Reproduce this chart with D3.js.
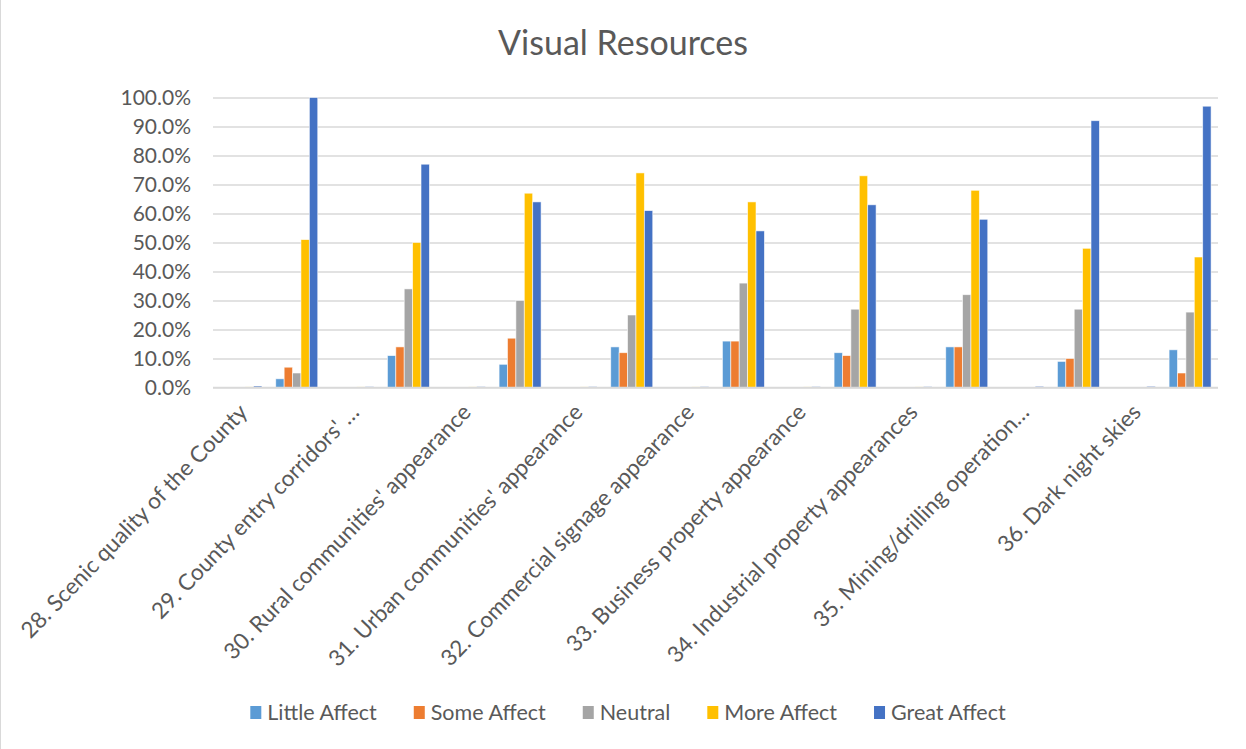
<!DOCTYPE html>
<html>
<head>
<meta charset="utf-8">
<script src="https://cdn.jsdelivr.net/npm/d3@7"></script>
<style>
  html, body { margin: 0; padding: 0; background: #fff; }
  svg { display: block; font-family: Lato, "Open Sans", sans-serif; }
</style>
</head>
<body>
<svg id="chart" width="1246" height="749"></svg>
<script>
// Survey questions (each question occupies two category slots; only the first is labelled)
const questions = [
  "28. Scenic quality of the County",
  "29. County entry corridors' …",
  "30. Rural communities' appearance",
  "31. Urban communities' appearance",
  "32. Commercial signage appearance",
  "33. Business property appearance",
  "34. Industrial property appearances",
  "35. Mining/drilling operation…",
  "36. Dark night skies"
];

const seriesNames = ["Little Affect", "Some Affect", "Neutral", "More Affect", "Great Affect"];
const seriesColors = ["#5B9BD5", "#ED7D31", "#A5A5A5", "#FFC000", "#4472C4"];

// Percent values, two slots per question
const littleAffect = [0, 3, 0, 11, 0, 8, 0, 14, 0, 16, 0, 12, 0, 14, 0, 9, 0, 13];
const someAffect   = [0, 7, 0, 14, 0, 17, 0, 12, 0, 16, 0, 11, 0, 14, 0, 10, 0, 5];
const neutral      = [0, 5, 0, 34, 0, 30, 0, 25, 0, 36, 0, 27, 0, 32, 0, 27, 0, 26];
const moreAffect   = [0.2, 51, 0.2, 50, 0.2, 67, 0.2, 74, 0.2, 64, 0.2, 73, 0.2, 68, 0, 48, 0, 45];
const greatAffect  = [0.5, 100, 0.3, 77, 0.3, 64, 0.3, 61, 0.3, 54, 0.3, 63, 0.3, 58, 0.4, 92, 0.4, 97];

const yTicks = [0, 10, 20, 30, 40, 50, 60, 70, 80, 90, 100];

const seriesValues = [littleAffect, someAffect, neutral, moreAffect, greatAffect];
const slotCount = littleAffect.length;
const slots = d3.range(slotCount);

const textColor = "#595959";
const gridColor = "#D9D9D9";

const svg = d3.select("#chart");
const plot = { left: 213, right: 1218, top: 97.5, bottom: 387.5 };

// left chart-area border
svg.append("line")
  .attr("x1", 0.5).attr("x2", 0.5).attr("y1", 0).attr("y2", 749)
  .attr("stroke", gridColor).attr("stroke-width", 1);

// title
svg.append("text")
  .attr("x", 623).attr("y", 55)
  .attr("text-anchor", "middle")
  .attr("font-size", 34)
  .attr("fill", textColor)
  .text("Visual Resources");

// scales
const gap = 0.2477;
const x0 = d3.scaleBand().domain(slots).range([plot.left, plot.right])
  .paddingInner(gap).paddingOuter(gap / 2);
const x1 = d3.scaleBand().domain(d3.range(seriesNames.length)).range([0, x0.bandwidth()]);
const y = d3.scaleLinear().domain([0, 100]).range([plot.bottom, plot.top]);

// gridlines + y axis labels
const yAxis = d3.axisLeft(y).tickValues(yTicks)
  .tickSize(-(plot.right - plot.left))
  .tickPadding(22)
  .tickFormat(d => d.toFixed(1) + "%");
const gy = svg.append("g").attr("transform", `translate(${plot.left},0)`).call(yAxis);
gy.select(".domain").remove();
gy.selectAll(".tick line").attr("stroke", gridColor).attr("stroke-width", 1.3);
gy.selectAll(".tick text")
  .attr("fill", textColor)
  .attr("font-size", 21)
  .attr("font-family", "Lato, 'Open Sans', sans-serif");

// bars
const groups = svg.append("g").selectAll("g")
  .data(slots)
  .join("g")
  .attr("transform", d => `translate(${x0(d)},0)`);

groups.selectAll("rect")
  .data(s => seriesValues.map((vals, i) => ({ i, v: vals[s] })))
  .join("rect")
  .attr("x", d => x1(d.i))
  .attr("width", x1.bandwidth())
  .attr("y", d => y(d.v))
  .attr("height", d => y(0) - y(d.v))
  .attr("fill", d => seriesColors[d.i])
  .attr("stroke", "#fff")
  .attr("stroke-width", 0.8)
  .attr("stroke-opacity", 0.7);

// category axis line
svg.append("line")
  .attr("x1", plot.left).attr("x2", plot.right)
  .attr("y1", plot.bottom).attr("y2", plot.bottom)
  .attr("stroke", gridColor).attr("stroke-width", 1.3);

// rotated category labels on every other slot
const labelled = slots.filter(s => s % 2 === 0);
svg.append("g").selectAll("text")
  .data(labelled)
  .join("text")
  .attr("transform", s => `translate(${x0(s) + x0.bandwidth() / 2 + 8},${plot.bottom + 26}) rotate(-46)`)
  .attr("text-anchor", "end")
  .attr("font-size", 22.5)
  .attr("fill", textColor)
  .text(s => questions[s / 2]);

// legend
const legend = svg.append("g");
const items = legend.selectAll("g").data(seriesNames).join("g");
items.append("rect")
  .attr("width", 11).attr("height", 13)
  .attr("y", -14)
  .attr("fill", (d, i) => seriesColors[i]);
items.append("text")
  .attr("x", 17)
  .attr("font-size", 21.5)
  .attr("fill", textColor)
  .text(d => d);
let cursor = 0;
items.each(function () {
  const g = d3.select(this);
  const w = 17 + g.select("text").node().getComputedTextLength();
  g.attr("transform", `translate(${cursor},0)`);
  cursor += w + 37;
});
const legendWidth = cursor - 37;
legend.attr("transform", `translate(${628 - legendWidth / 2},720)`);
</script>
</body>
</html>
